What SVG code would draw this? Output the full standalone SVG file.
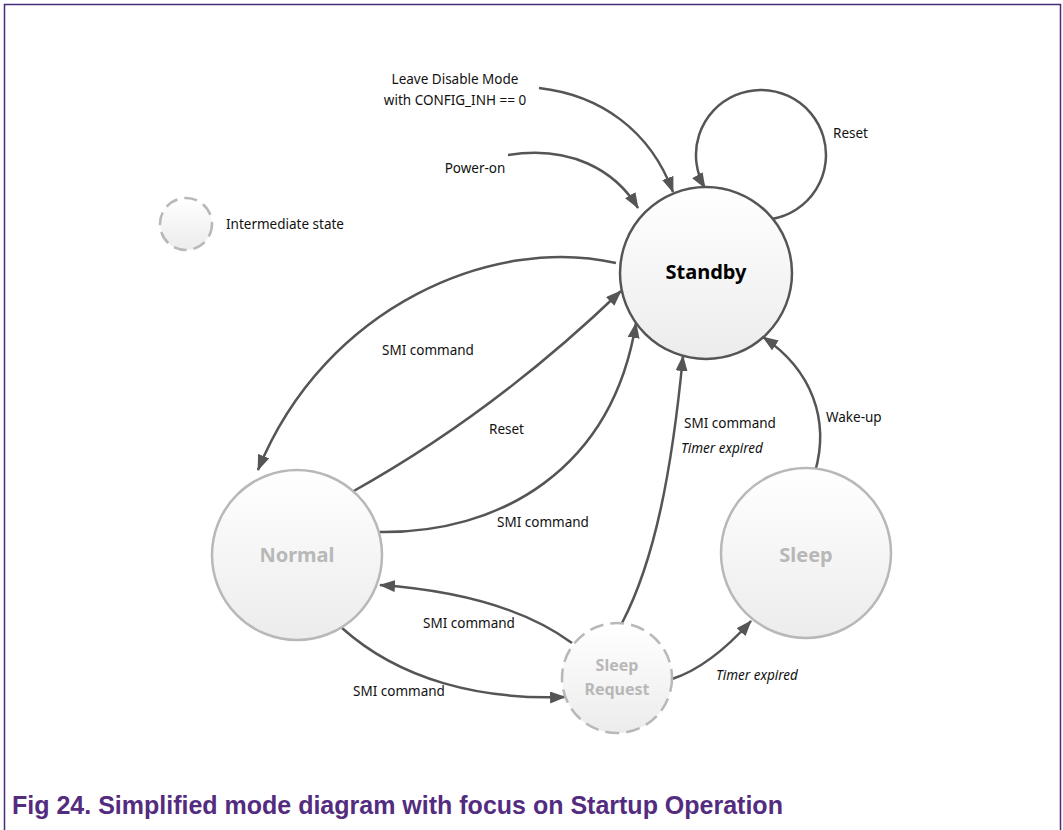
<svg xmlns="http://www.w3.org/2000/svg" width="1063" height="830" viewBox="0 0 1063 830">
<defs>
<linearGradient id="g" x1="0" y1="0" x2="0" y2="1">
<stop offset="0" stop-color="#ffffff"/>
<stop offset="1" stop-color="#ececec"/>
</linearGradient>
<marker id="ah" viewBox="0 0 16 12" refX="15" refY="6" markerWidth="16" markerHeight="12" orient="auto" markerUnits="userSpaceOnUse">
<path d="M0,0 L16,6 L0,12 z" fill="#555555"/>
</marker>
</defs>
<style>
.lbl{font-family:"Noto Sans","Liberation Sans",sans-serif;font-size:13.5px;fill:#111}
.it{font-style:italic}
.st{font-family:"Noto Sans","Liberation Sans",sans-serif;font-weight:bold;text-anchor:middle}
.c{fill:none;stroke:#555555;stroke-width:2.5}
.a{marker-end:url(#ah)}
</style>
<rect x="0" y="0" width="1063" height="830" fill="#ffffff"/>
<path d="M4.5,832 V4.5 H1060.5 V832" fill="none" stroke="#4a2a7a" stroke-width="1.5"/>
<text x="12" y="814" font-family="'Liberation Sans',Arial,sans-serif" font-weight="bold" font-size="25" fill="#532c80">Fig 24. Simplified mode diagram with focus on Startup Operation</text>

<g id="connectors">
<path class="c a" d="M539,88 C600,95 650,130 673,192"/>
<path class="c a" d="M508,155 C570,145 615,170 638,208"/>
<path class="c a" d="M772,219 A65,65 0 1 0 705,188"/>
<path class="c a" d="M616,263 C495,235 325,305 258,470"/>
<path class="c a" d="M352,492 Q494,413 621,291"/>
<path class="c a" d="M378,532 C500,534 612,470 636,323"/>
<path class="c a" d="M342,628 C400,680 480,700 565,697"/>
<path class="c a" d="M572,643 C520,605 450,590 380,585"/>
<path class="c a" d="M622,623 C655,560 672,470 683,356"/>
<path class="c a" d="M815,472 C830,420 812,370 763,337"/>
<path class="c a" d="M672,679 C700,670 725,650 751,621"/>
</g>

<g id="labels">
<text class="lbl" x="455" y="84" text-anchor="middle">Leave Disable Mode</text>
<text class="lbl" x="455" y="105" text-anchor="middle">with CONFIG_INH == 0</text>
<text class="lbl" x="475" y="173" text-anchor="middle">Power-on</text>
<text class="lbl" x="833" y="138">Reset</text>
<text class="lbl" x="382" y="355">SMI command</text>
<text class="lbl" x="489" y="434">Reset</text>
<text class="lbl" x="497" y="527">SMI command</text>
<text class="lbl" x="684" y="428">SMI command</text>
<text class="lbl it" x="681" y="453">Timer expired</text>
<text class="lbl" x="826" y="422">Wake-up</text>
<text class="lbl" x="423" y="628">SMI command</text>
<text class="lbl" x="353" y="696">SMI command</text>
<text class="lbl it" x="716" y="680">Timer expired</text>
</g>

<g id="legend">
<circle cx="186" cy="224" r="26" fill="url(#g)" stroke="#b8b8b8" stroke-width="2.5" stroke-dasharray="13,7"/>
<text class="lbl" x="226" y="229">Intermediate state</text>
</g>

<g id="standby">
<circle cx="706" cy="273" r="86" fill="url(#g)" stroke="#555555" stroke-width="2.5"/>
<text class="st" x="706" y="279" font-size="20" fill="#000">Standby</text>
</g>

<g id="normal">
<circle cx="297" cy="555" r="85" fill="url(#g)" stroke="#b8b8b8" stroke-width="2.5"/>
<text class="st" x="297" y="562" font-size="20" fill="#b8b8b8">Normal</text>
</g>

<g id="sleep">
<circle cx="806" cy="553" r="85" fill="url(#g)" stroke="#b8b8b8" stroke-width="2.5"/>
<text class="st" x="806" y="562" font-size="20" fill="#b8b8b8">Sleep</text>
</g>

<g id="sleep-request">
<circle cx="617" cy="678" r="55" fill="url(#g)" stroke="#b8b8b8" stroke-width="2.5" stroke-dasharray="14,7"/>
<text class="st" x="617" y="671" font-size="16" fill="#b8b8b8">Sleep</text>
<text class="st" x="617" y="695" font-size="16" fill="#b8b8b8">Request</text>
</g>
</svg>
